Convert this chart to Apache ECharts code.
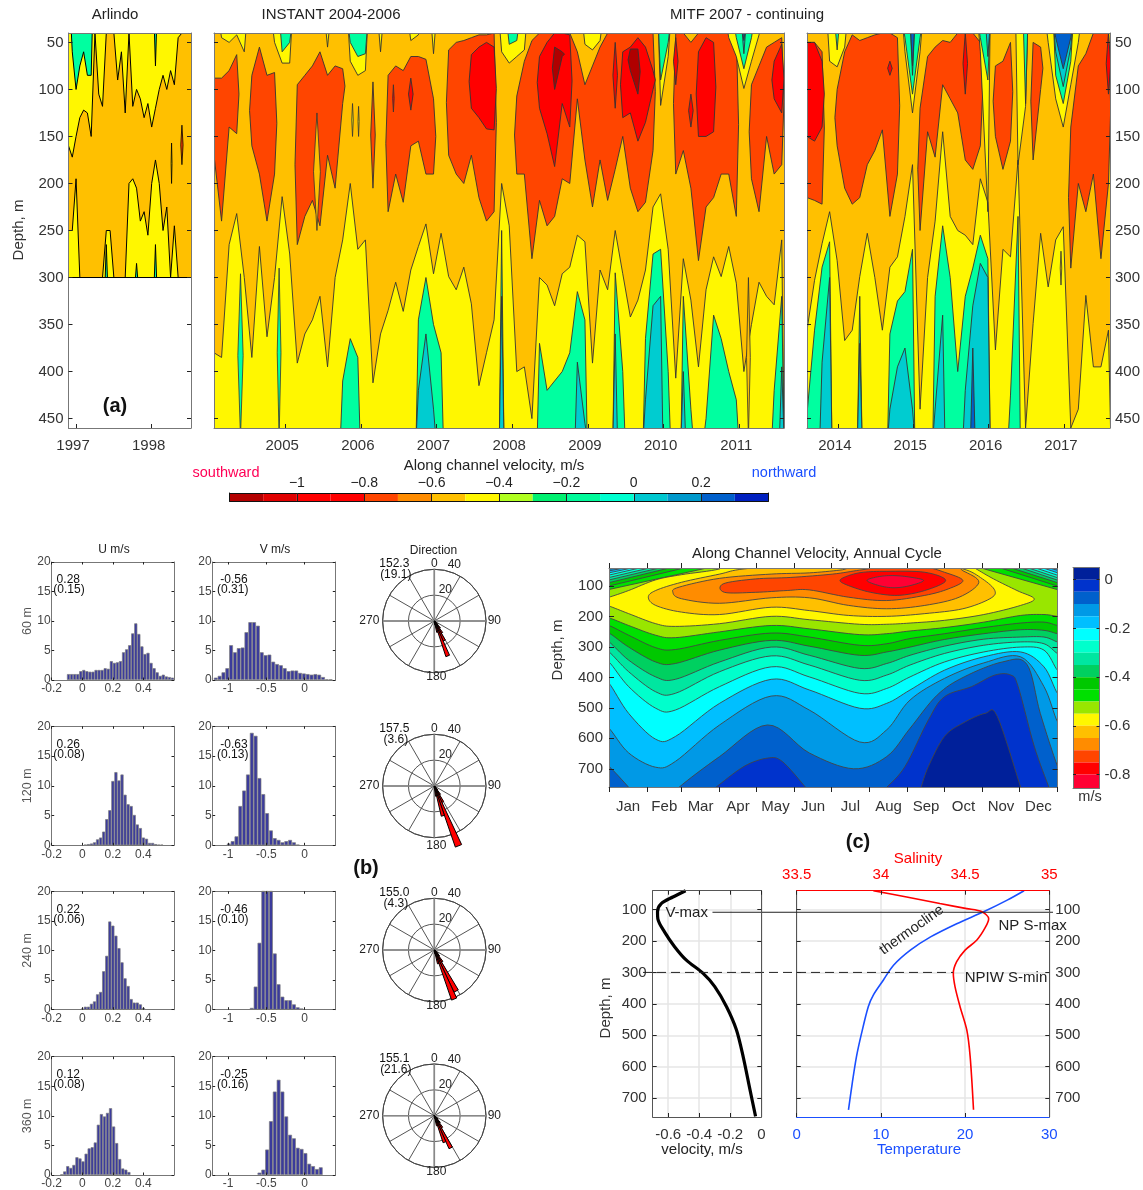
<!DOCTYPE html>
<html><head><meta charset="utf-8">
<style>html,body{margin:0;padding:0;background:#fff}#c{width:1143px;height:1190px}</style>
<script src="https://cdn.jsdelivr.net/npm/echarts@6/dist/echarts.min.js"></script>
</head><body><div id="c"></div>
<script>
const _=null;
const FONT='"Liberation Sans",Arial,sans-serif';
// ---------- colours of the velocity scale ----------
const cDark='#B00000',cRed='#FF0000',cOrRed='#FF4500',cOrange='#FFC000',cYellow='#FFF700',cGreen='#00FFA0',cTeal='#00CCD0',cBlue='#0060CC';
const topEdges=[-1.2,-1.1,-1,-0.9,-0.8,-0.7,-0.6,-0.5,-0.4,-0.3,-0.2,-0.1,0,0.1,0.2,0.3,0.4];
const topColors=['#B30000','#E00000','#FF0000','#FF0000','#FF4500','#FF8C00','#FFC000','#FFF700','#B0FF20','#00F070','#00FA9A','#00FFD0','#00C8D0','#0099CC','#0060CC','#0020C0'];
const topTicks=[-1,-0.8,-0.6,-0.4,-0.2,0,0.2];
// ---------- Arlindo panel, depth of contour at 0.05 yr steps from 1996.90 ----------
const arlTopY=[160,172,150,130,122,125,150,40,105,118,40,40,40,90,60,125,40,118,100,110,130,115,140,120,100,85,100,80,95,45,40,40,40];
const arlBotY=[250,250,195,300,300,300,300,300,300,300,250,250,300,300,300,300,200,195,205,240,230,255,200,175,200,250,225,300,245,300,300,300,300];
const arlTopG=[[1,[60,100,75,60,85,85]],[23,[75]]];
const arlBotG=[[10,[265]],[18,[285]],[23,[265]]];
// ---------- INSTANT / MITF part 1, 0.1 yr steps from 2004.06 ----------
const instRedT=[88,88,80,63,_,85,55,85,82,_,_,95,85,75,60,85,75,78,_,_,_,92,_,85,75,80,65,65,68,110,_,58,50,48,45,42,42,40,_,_,107,70,48,40,40,40,40,40,60,95,75,55,40,40,40,40,40,40,40,_,_,40,40,50,40,40,40,40,40,40,_,95,75,55,50,45];
const instRedB=[170,240,140,147,_,160,190,240,190,_,_,265,235,218,245,170,205,115,_,_,_,205,_,230,190,220,160,155,190,190,_,170,190,200,170,215,240,230,_,_,190,190,280,218,245,235,195,200,110,175,225,175,218,185,150,205,230,220,165,_,_,190,165,205,282,225,215,190,190,235,_,195,230,150,190,180];
const instBotY=[380,385,265,232,300,385,267,363,300,214,275,391,360,345,320,395,300,260,200,270,260,412,360,335,305,336,292,267,243,296,253,299,313,289,328,415,380,345,200,245,400,395,450,300,308,330,296,289,255,262,391,292,313,250,296,342,324,292,225,211,270,407,280,324,395,313,278,299,267,306,400,350,305,320,329,260];
const instBright=[[26,[88],[122]],[34,[63,55,50,55],[120,130,142,143]],[43,[65,50,40,40,42],[120,147,182,115,140]],[53,[50],[120]],[54,[60,55,45,55,80],[130,125,155,135,100]],[61,[45],[95]],[63,[105],[140]],[64,[60,45,50],[150,150,145]],[74,[70,52],[110,125]]];
const instDark=[[45,[55,60],[100,65]],[55,[57,57],[80,105]]];
const instTopY=[[1,[45,50,42,60]],[8,[50,72,72]],[15,[55]],[18,[70,85,80]],[22,[60]],[26,[48,42]],[29,[62]],[38,[60,72,65,58]],[49,[52,58,48]],[59,[117,65]],[68,[45,65,99,70,42]]];
const instTopG=[[9,[60,50]],[18,[50,65,62]],[39,[52,48]],[59,[90,50]],[69,[45,78,45]]];
const instTopT=[[70,[62]]];
const instTopB=[[70,[48]]];
const instBotG=[[17,[410,365,385]],[27,[345,300,350,380]],[38,[250]],[43,[370,420,410,400,380,315,345]],[53,[295,400]],[57,[365,275,270,400]],[62,[320,440]],[65,[450,340,365,400,430]],[74,[420,320]]];
const instBotT=[[27,[420,360,440]],[38,[320]],[48,[390,455]],[53,[360]],[57,[430,330,320]],[62,[400]],[75,[395]]];
// narrow features: year, top, bottom, width, colour
const instSpikes=[[2004.41,296,470,0.07,cGreen],[2004.92,290,470,0.05,cGreen],[2005.42,125,250,0.09,cOrange],[2005.89,115,150,0.02,cYellow],[2005.97,118,150,0.015,cYellow],[2006.43,95,124,0.02,cRed],[2011.12,300,470,0.05,cOrange]];
// ---------- MITF part 2, 0.1 yr steps from 2013.59 ----------
const mitRedT=[50,50,60,_,100,60,42,48,45,42,40,40,45,_,_,120,65,55,48,50,40,40,40,50,_,75,70,50,_,_,50,55,_,_,_,140,75,62,40,40,40];
const mitRedB=[215,218,222,_,160,205,222,215,180,165,143,235,190,_,_,250,145,172,95,110,125,175,185,160,_,150,185,155,_,_,175,100,_,_,_,290,200,230,190,280,200];
const mitBotY=[356,303,264,230,282,367,356,299,253,300,356,289,278,235,180,440,300,240,145,235,250,255,265,195,220,377,270,278,175,460,349,253,310,260,246,460,440,319,395,395,356];
const mitBright=[[0,[50,50,70],[150,155,140]],[11,[70],[85]],[21,[40],[105]],[40,[40],[105]]];
const mitTopY=[[3,[70,76,55]],[13,[60,125,60]],[23,[60,230]],[28,[180,118]],[32,[50,110,140,95,50]]];
const mitTopG=[[4,[58]],[13,[45,105,45]],[23,[45,90]],[29,[115]],[33,[85,115,70]]];
const mitTopT=[[14,[85]],[24,[65]],[33,[60,97,55]]];
const mitTopB=[[14,[75]],[33,[45,78,45]]];
const mitBotG=[[0,[445,356,289,262]],[7,[320]],[11,[360,325,315,270]],[17,[320,245,300,400,320,290,255,280]],[27,[425,235]]];
const mitBotT=[[2,[390,300]],[7,[370]],[11,[440,395,375,440]],[17,[440,340]],[21,[420,330,285,300]]];
const mitBotB=[[22,[375]]];
const mitSpikes=[[2016.96,272,308,0.02,cOrange]];
// ---------- histograms: first bin centre, then bar heights ----------
const u60=[1.0,1.0,1.0,1.0,1.5,1.7,1.5,1.4,1.4,1.7,1.7,1.7,2.0,1.9,3.2,2.9,3.0,3.2,4.7,5.2,5.9,7.9,9.6,7.8,5.7,4.4,4.6,2.9,2.0,1.3,0.7,0.9,0.6,0.5,0.4];
const v60=[0.4,0.7,1.3,2.0,5.9,4.7,5.4,5.5,8.1,9.8,9.8,9.2,4.7,4.2,4.3,3.1,2.7,2.5,2.0,1.5,1.6,1.6,1.2,1.1,1.0,0.9,1.0,0.9,0.5,0.1,0.1];
const u120=[0.1,0.2,0.3,0.5,1.0,1.3,2.3,4.4,5.9,10.8,12.3,10.9,11.9,8.5,6.9,6.6,5.1,3.5,2.9,1.3,1.1,0.4,0.4,0.2,0.1,0.1];
const v120=[0.3,0.7,1.5,6.6,9.2,11.9,18.9,18.4,11.3,8.6,5.4,2.5,1.2,0.9,0.5,0.7,0.9,0.5,0.1];
const u240=[0.2,0.5,0.5,1,1.4,2.6,3,6.5,9.1,14.9,14.2,12.5,10.4,8,5.3,4,1.8,1.2,1.2,0.9,0.3];
const v240=[0.3,3.9,11.3,24,26,24,9.5,4.3,2.2,1.6,1.6,0.9,0.4,0.2];
const u360=[0.1,0.6,1.5,1.2,1.7,3,2.8,2.3,3.6,4.5,4.7,5.5,8.5,10.3,9.9,10.5,11.3,8.2,5.4,2.7,1.1,0.9,0.5];
const v360=[0.4,0.9,4.3,9.1,14.1,16.1,14.1,9.9,6.8,6.2,4.6,4.4,3.7,1.9,1.5,1.0,1.3];
const uStarts=[-0.09,0.02,0,-0.135], vStarts=[-1.16,-0.99,-0.69,-0.59];
const uTable=[u60,u120,u240,u360], vTable=[v60,v120,v240,v360];
const uMeans=['0.28','0.26','0.22','0.12'],uSds=['(0.15)','(0.08)','(0.06)','(0.08)'];
const vMeans=['-0.56','-0.63','-0.46','-0.25'],vSds=['(0.31)','(0.13)','(0.10)','(0.16)'];
const rowNames=['60 m','120 m','240 m','360 m'];
// ---------- rose diagrams: [direction, length] ----------
const rose60=[[129,2],[135,4],[141,7],[147,11],[153,17],[159,29],[165,9],[171,3]];
const rose120=[[134,2],[140,4],[146,8],[152,14],[158,50],[164,24],[170,8],[176,2]];
const rose240=[[128,2],[134,4],[140,6],[146,11],[152,36],[158,41],[164,11],[170,3]];
const rose360=[[129,2],[135,4],[141,7],[147,11],[153,28],[159,22],[165,8],[171,2]];
const roseTable=[rose60,rose120,rose240,rose360];
const roseDir=['152.3','157.5','155.0','155.1'],roseSd=['(19.1)','(3.6)','(4.3)','(21.6)'];
// ---------- annual cycle, panel c ----------
const cycDays=[0,16,38,54,90,132,163,204,226,245,273,305,335,354,365];
const cycY0=[165,190,223,232,223,199,210,225,225,221,212,193,163];
const cycY1=[204,229,261,269,250,229,240,259,256,247,236,218,196,193,199];
const cycY2=[229,261,302,308,278,254,267,294,289,272,256,236,221,218,229];
const cycY3=[254,300,349,354,310,278,297,327,316,300,275,256,243,245,256];
const cycY4=[283,343,398,406,349,300,327,370,354,327,297,274,267,267,283];
const cycY5=[316,381,447,452,381,329,359,409,392,359,321,294,283,289,321];
const cycY6=[349,430,501,507,430,365,398,452,436,398,349,316,300,310,376];
const cycY7=[419,518,603,594,485,406,441,501,485,441,376,332,316,365,452];
const cycY8=[567,648,695,676,556,461,507,612,572,474,403,352,332,430,545];
const cycB=[[-6,680],[0,692],[16,761],[26,810],[47,810],[57,761],[90,660],[129,556],[163,648],[199,700],[226,660],[245,567],[267,458],[289,398],[320,349],[340,356],[351,518],[365,692],[372,745]];
const cycBump1=[[87,761],[110,692],[129,665],[141,676],[160,761]];
const cycBump2=[[226,761],[241,692],[260,539],[273,463],[295,430],[314,392],[327,392],[333,430],[346,625],[358,761]];
const cycNavy=[[254,761],[260,692],[273,594],[288,550],[306,518],[316,528],[335,761]];
const cycYellowTop=[[346,141],[332,114],[313,76],[298,41],[288,16],[101,16],[90,43],[59,62],[38,79],[16,114],[0,136],[-6,140]];
const cycBlobA=[[32,136],[38,114],[59,87],[90,60],[110,43],[163,27],[257,27],[288,43],[304,76],[314,114],[310,141],[288,174],[257,190],[226,199],[195,196],[163,180],[132,169],[90,193],[59,185],[38,163]];
const cycBlobB=[[52,120],[57,103],[90,74],[132,60],[163,56],[188,47],[204,38],[276,32],[288,49],[301,87],[285,136],[257,163],[226,174],[195,163],[163,138],[132,138],[90,156],[59,141]];
const cycBlobC=[[93,92],[119,76],[148,71],[182,60],[204,47],[226,36],[257,38],[273,54],[288,81],[276,109],[257,130],[226,147],[195,136],[163,112],[145,114],[119,120],[94,120]];
const cycBlobD=[[188,81],[195,65],[207,54],[226,51],[257,54],[274,81],[257,114],[235,130],[213,120],[195,98]];
const cycBlobE=[[210,81],[220,68],[232,65],[245,70],[256,81],[245,98],[232,105],[220,98]];
const fanColors=['#00E000','#00C800','#00D060','#00E6A0','#00FFCC','#00FFFF','#00BFFF','#0099E6','#0060CC'];
const fanLeft=[[112,82],[101,63],[90,51],[81,43],[73,35],[65,27],[57,21],[50,15],[45,8]];
const fanRight=[[114,301],[103,317],[92,326],[84,334],[76,340],[68,346],[60,352],[51,357],[44,362]];
const cycEdges=[0.05,0,-0.05,-0.1,-0.15,-0.2,-0.25,-0.3,-0.35,-0.4,-0.45,-0.5,-0.55,-0.6,-0.65,-0.7,-0.75,-0.8,-0.855];
const cycColors=['#00209A','#0033CC','#0060CC','#0099E6','#00BFFF','#00FFFF','#00FFCC','#00E6A0','#00D060','#00C800','#00E000','#99E600','#FFF700','#FFC000','#FF8C00','#FF4500','#FF0000','#FF0033'];
const monthEnds=[0,31,59,90,120,151,181,212,243,273,304,334,365];
const monthMids=[15.5,45,74.5,105,135.5,166,196.5,227.5,258,288.5,319,349.5];
const monthNames=['Jan','Feb','Mar','Apr','May','Jun','Jul','Aug','Sep','Oct','Nov','Dec'];
// ---------- mean profiles ----------
const profVel=[[-0.488,40],[-0.57,60],[-0.645,81],[-0.669,107],[-0.667,129],[-0.624,171],[-0.559,218],[-0.483,261],[-0.375,303],[-0.30,345],[-0.224,409],[-0.16,483],[-0.117,568],[-0.073,673],[-0.037,758]];
const profTemp=[[27,40],[25,70],[22.2,107],[19,145],[15.9,187],[13.5,229],[11.5,277],[10.3,324],[9.1,372],[8.5,409],[7.7,494],[7.1,568],[6.6,652],[6.15,737]];
const profSal=[[33.955,40],[34.153,60],[34.35,81],[34.51,97],[34.6,107],[34.64,129],[34.62,157],[34.57,197],[34.5,229],[34.45,266],[34.43,303],[34.44,345],[34.47,409],[34.51,483],[34.53,568],[34.55,737]];
const vmaxLine=[[-10,108.6],[30.44,108.6]];
const smaxDash=[[-18.25,300],[18.56,300]];

// ====================== builders =======================
const grids=[],xAxes=[],yAxes=[],polars=[],angles=[],radii=[],series=[],gfx=[];
const TAPER=0.3;
function axisBase(o){return {type:'value',min:o.min,max:o.max,z:o.split?1:10,inverse:!!o.inverse,position:o.pos,gridIndex:o.g,show:o.show!==false,
  axisLine:{show:true,onZero:false,lineStyle:{color:o.line||'#777',width:o.lw||1}},
  axisTick:{show:!!o.ticks,inside:!o.out,length:o.tl||4,customValues:o.ticks||[],lineStyle:{color:'#222',width:1}},
  axisLabel:{show:!!o.labels,inside:false,customValues:o.labels||[],formatter:o.fmt,fontFamily:FONT,fontSize:o.fs||15,color:o.lc||'#333',margin:o.m==null?6:o.m,hideOverlap:false,showMinLabel:true,showMaxLabel:true},
  splitLine:{show:!!o.split,lineStyle:{color:'#e6e6e6',width:1.5}}};}
function addPanel(o){
  const g=grids.length;
  grids.push({left:o.l,top:o.t,width:o.r-o.l,height:o.b-o.t,show:true,backgroundColor:o.bg||'transparent',borderWidth:0,containLabel:false});
  const xi=xAxes.length,yi=yAxes.length,show=o.hidden?false:true;
  xAxes.push(axisBase({g,pos:'bottom',min:o.x0,max:o.x1,ticks:o.xt,labels:o.xl,fmt:o.xf,fs:o.fs,lc:o.xlc,line:o.xline||o.line,m:o.xm,out:o.xout,tl:o.tl,split:o.split,show}));
  xAxes.push(axisBase({g,pos:'top',min:o.x0,max:o.x1,ticks:o.xtt===undefined?o.xt:o.xtt,labels:o.xlt,fmt:o.xf,fs:o.fs,lc:o.xltc,line:o.xtline||o.line,m:o.xm,out:o.xout,tl:o.tl,show}));
  yAxes.push(axisBase({g,pos:'left',inverse:o.inv,min:o.y0,max:o.y1,ticks:o.yt,labels:o.yll,fmt:o.yf,fs:o.fs,lc:o.ylc,line:o.line,m:o.ym,tl:o.tl,split:o.split,show}));
  yAxes.push(axisBase({g,pos:'right',inverse:o.inv,min:o.y0,max:o.y1,ticks:o.yt,labels:o.ylr,fmt:o.yf,fs:o.fs,lc:o.ylc,line:o.line,m:o.ym,tl:o.tl,show}));
  return {g,x:xi,y:yi};
}
function cr(p,closed){ // Catmull-Rom densification in screen space
  const n=p.length,out=[],N=8;
  const at=i=>closed?p[(i+n)%n]:p[Math.max(0,Math.min(n-1,i))];
  const last=closed?n:n-1;
  for(let i=0;i<last;i++){const a=at(i-1),b=at(i),c=at(i+1),d=at(i+2);
    for(let k=0;k<N;k++){const t=k/N,t2=t*t,t3=t2*t;
      out.push([0,1].map(j=>0.5*(2*b[j]+(c[j]-a[j])*t+(2*a[j]-5*b[j]+4*c[j]-d[j])*t2+(3*b[j]-a[j]-3*c[j]+d[j])*t3)));}}
  if(!closed)out.push(p[n-1]);
  return out;
}
function drawPolys(pan,list,z){
  series.push({type:'custom',coordinateSystem:'cartesian2d',xAxisIndex:pan.x,yAxisIndex:pan.y,clip:true,silent:true,animation:false,z:z||2,
    data:list.map((q,i)=>[i]),encode:{x:[],y:[]},
    renderItem:(ctx,api)=>{const q=list[ctx.dataIndex];let c=q.pts.map(d=>api.coord(d));
      if(q.curve)c=cr(c,q.curve==='closed');
      if(q.tail)c=c.concat(q.tail.map(d=>api.coord(d)));
      return {type:'polygon',shape:{points:c},style:{fill:q.fill,stroke:q.stroke||null,lineWidth:q.lw||0}};}});
}
// bands from run lists
function denseRuns(top,bot){const r=[];let s=-1;for(let i=0;i<=top.length;i++){const ok=i<top.length&&top[i]!=null&&bot[i]!=null&&top[i]<bot[i];
  if(ok&&s<0)s=i;if(!ok&&s>=0){r.push([s,top.slice(s,i),bot.slice(s,i)]);s=-1;}}return r;}
function bandPolys(runs,t0,step,fill,stroke,lw,topA,botA){
  return runs.map(([s,T,B])=>{const h=step*TAPER,x=i=>t0+step*(s+i),n=T.length,pts=[];
    const m=(a,b)=>(a===topA?topA:(b===botA?botA:(a+b)/2));
    pts.push([x(0)-h,m(T[0],B[0])]);
    T.forEach((v,i)=>pts.push([x(i),v]));
    pts.push([x(n-1)+h,m(T[n-1],B[n-1])]);
    for(let i=n-1;i>=0;i--)pts.push([x(i),B[i]]);
    return {pts,fill,stroke,lw};});
}
const fromTop=(runs,a)=>runs.map(([s,v])=>[s,v.map(()=>a),v]);
const fromBot=(runs,a)=>runs.map(([s,v])=>[s,v,v.map(()=>a)]);
function denseBot(arr,a){const t=arr.map(v=>v>=a?null:v);return denseRuns(t,arr.map(()=>a));}
function denseTop(arr,a){const b=arr.map(v=>v<=a?null:v);return denseRuns(arr.map(()=>a),b);}
function spikes(list,stroke){return list.map(([t,a,b,w,c])=>({pts:[[t-w/2,(a+b)/2],[t,a],[t+w/2,(a+b)/2],[t,b]],fill:c,stroke,lw:0.8}));}
function txt(text,x,y,size,color,opt){opt=opt||{};gfx.push({type:'text',x,y,rotation:opt.rot||0,z:100,silent:true,
  style:{text,fontFamily:FONT,fontSize:size,fontWeight:opt.bold?'bold':'normal',fill:color||'#222',align:opt.align||'center',verticalAlign:'middle'}});}

// ====================== top row =======================
const depthTicks=[50,100,150,200,250,300,350,400,450];
const yrFmt=v=>String(Math.round(v));
const STK='#333',SW=0.9;
const pA=addPanel({l:68.5,r:191,t:33,b:428,x0:1996.9,x1:1998.52,y0:40,y1:460,inv:true,bg:cOrange,xt:[1997,1998],xtt:[],xl:[1996.96,1997.96],xf:yrFmt,yt:depthTicks,yll:depthTicks,ym:5,xm:10});
const pB=addPanel({l:214,r:784,t:33,b:428,x0:2004.06,x1:2011.59,y0:40,y1:460,inv:true,bg:cOrange,xt:[2005,2006,2007,2008,2009,2010,2011],xtt:[],xl:[2004.96,2005.96,2006.96,2007.96,2008.96,2009.96,2010.96],xf:yrFmt,yt:depthTicks,xm:10});
const pC=addPanel({l:807,r:1111.5,t:33,b:428,x0:2013.59,x1:2017.61,y0:40,y1:460,inv:true,bg:cOrange,xt:[2014,2015,2016,2017],xtt:[],xl:[2013.96,2014.96,2015.96,2016.96],xf:yrFmt,yt:depthTicks,ylr:depthTicks,ym:5,xm:10});
(function(){
  const A=(r,c,top,bot,s)=>bandPolys(r,1996.9,0.05,c,'#000',1,top,bot);
  const l=[].concat(
    A(denseBot(arlBotY,301),cYellow,_,301),
    A(fromBot(arlBotG,301),cGreen,_,301),
    A(denseTop(arlTopY,35),cYellow,35,_),
    A(fromTop(arlTopG,35),cGreen,35,_),
    spikes([[1998.263,157,200,0.012,cYellow],[1998.40,138,180,0.03,cOrRed]],'#000'),
    [{pts:[[1996,300],[1999,300],[1999,470],[1996,470]],fill:'#fff',stroke:'#000',lw:1}]);
  drawPolys(pA,l);
  function layered(t0,botY,redT,redB,botG,botT,botB,topY,topG,topT,topB,bright,dark,sp){
    const F=(r,c,a,b)=>bandPolys(r,t0,0.1,c,STK,SW,a,b);
    return [].concat(
      F(denseBot(botY,470),cYellow,_,470),
      F(fromBot(botG,470),cGreen,_,470),
      F(fromBot(botT,470),cTeal,_,470),
      F(fromBot(botB,470),cBlue,_,470),
      F(denseRuns(redT,redB),cOrRed),
      spikes(sp,STK),
      F(fromTop(topY,30),cYellow,30,_),
      F(fromTop(topG,30),cGreen,30,_),
      F(fromTop(topT,30),cTeal,30,_),
      F(fromTop(topB,30),cBlue,30,_),
      F(bright,cRed),
      F(dark,cDark));
  }
  drawPolys(pB,layered(2004.06,instBotY,instRedT,instRedB,instBotG,instBotT,[],instTopY,instTopG,instTopT,instTopB,instBright,instDark,instSpikes));
  drawPolys(pC,layered(2013.59,mitBotY,mitRedT,mitRedB,mitBotG,mitBotT,mitBotB,mitTopY,mitTopG,mitTopT,mitTopB,mitBright,[],mitSpikes));
})();
// top colour bar
const pBar=addPanel({l:229.5,r:768.5,t:493,b:501,x0:-1.2,x1:0.4,y0:0,y1:1,line:'#111',xtt:topTicks,xt:[],xlt:topTicks,xltc:'#222',xf:v=>String(v).replace('-','\u2212'),tl:8,xm:3,fs:14});
drawPolys(pBar,topColors.map((c,i)=>({pts:[[topEdges[i],0],[topEdges[i+1],0],[topEdges[i+1],1],[topEdges[i],1]],fill:c})));

// ====================== histograms =======================
const rowTop=[562,726.3,891.3,1056.7],rowBot=[680,845.3,1009.7,1175];
const rosePos=[[434.3,621],[434.3,786],[434.3,950],[434.3,1115.7]];
const yHist=[0,5,10,15,20];
function hist(pan,vals,start,step,w){
  series.push({type:'bar',xAxisIndex:pan.x,yAxisIndex:pan.y,barWidth:w,clip:true,silent:true,animation:false,z:3,
    itemStyle:{color:'#3B3B9C',borderColor:'#7d7d7d',borderWidth:0.7},
    data:vals.map((h,i)=>[start+step*i,h])});
}
rowTop.forEach((t,i)=>{
  const b=rowBot[i];
  const pu=addPanel({l:51.7,r:174,t,b,x0:-0.2,x1:0.6,y0:0,y1:20,xt:[-0.2,0,0.2,0.4],xl:[-0.2,0,0.2,0.4],xf:v=>String(v),yt:yHist,yll:yHist,fs:12,tl:2.5,ym:1,xm:3,xlc:'#444',ylc:'#444'});
  const pv=addPanel({l:212.7,r:335.3,t,b,x0:-1.2,x1:0.4,y0:0,y1:20,xt:[-1,-0.5,0],xl:[-1,-0.5,0],xf:v=>String(v),yt:yHist,yll:yHist,fs:12,tl:2.5,ym:1,xm:3,xlc:'#444',ylc:'#444'});
  hist(pu,uTable[i],uStarts[i],0.02,3.1);
  hist(pv,vTable[i],vStarts[i],0.05,3.8);
  txt(uMeans[i],68.3,t+18,12,'#111');txt(uSds[i],69,t+28,12,'#111');
  txt(vMeans[i],234,t+18,12,'#111');txt(vSds[i],232.7,t+28,12,'#111');
  txt(rowNames[i],28,(t+b)/2,12.5,'#555',{rot:Math.PI/2});
  // rose
  const pi=polars.length,[cx,cy]=rosePos[i];
  polars.push({center:[cx,cy],radius:51.7});
  angles.push({polarIndex:pi,type:'value',min:0,max:360,startAngle:90,clockwise:true,interval:30,z:1,
    axisLabel:{show:false},axisTick:{show:false},axisLine:{show:true,lineStyle:{color:'#444'}},splitLine:{show:true,lineStyle:{color:'#555',width:1}}});
  radii.push({polarIndex:pi,type:'value',min:0,max:40,interval:20,z:1,axisLabel:{show:false},axisTick:{show:false},axisLine:{show:false},splitLine:{show:true,lineStyle:{color:'#555',width:1}}});
  const main=[0,90,180,270];
  series.push({type:'custom',coordinateSystem:'polar',polarIndex:pi,silent:true,animation:false,z:2,data:main.map((a,k)=>[k]),encode:{radius:[],angle:[]},
    renderItem:(ctx,api)=>{const a=main[ctx.dataIndex],p=api.coord([0,a]),q=api.coord([40,a]);
      return {type:'line',shape:{x1:p[0],y1:p[1],x2:q[0],y2:q[1]},style:{stroke:'#888',lineWidth:1.6}};}});
  const rose=roseTable[i];
  series.push({type:'custom',coordinateSystem:'polar',polarIndex:pi,silent:true,animation:false,z:3,data:rose.map((a,k)=>[k]),encode:{radius:[],angle:[]},
    renderItem:(ctx,api)=>{const [a,r]=rose[ctx.dataIndex];
      return {type:'polygon',shape:{points:[api.coord([0,a]),api.coord([r,a-3]),api.coord([r,a+3])]},style:{fill:'#FF0000',stroke:'#000',lineWidth:1}};}});
  txt('0',cx,cy-57,12,'#222');txt('40',cx+20,cy-56.5,12,'#222');txt('20',cx+11,cy-31.5,12,'#222');
  txt('270',cx-65,cy,12,'#222');txt('90',cx+60,cy,12,'#222');txt('180',cx+2,cy+(i==1?60:56),12,'#222');
  txt(roseDir[i],cx-40,cy-57,12,'#111');txt(roseSd[i],cx-38.5,cy-46,12,'#111');
});

// ====================== annual cycle =======================
const cycTicksY=[100,200,300,400,500,600,700];
const pCy=addPanel({l:609,r:1057.5,t:568,b:787,x0:0,x1:365,y0:40,y1:760,inv:true,bg:'#0060CC',xt:monthEnds,xl:monthMids,xf:v=>{const k=monthMids.indexOf(v);return k<0?'':monthNames[k];},xout:true,tl:5,yt:cycTicksY,yll:cycTicksY,ym:6,xm:12,xlc:'#333'});
(function(){
  const S='#444',W=0.9;
  const pairs=arr=>{const p=arr.map((d,i)=>[cycDays[i],d]);return [[-6,arr[0]]].concat(p,[[371,arr[arr.length-1]]]);};
  const above=(arr,fill)=>({pts:pairs(arr),curve:'open',tail:[[380,0],[-15,0]],fill,stroke:S,lw:W});
  const bump=(pts,fill)=>({pts,curve:'open',tail:[[pts[pts.length-1][0],800],[pts[0][0],800]],fill,stroke:S,lw:W});
  const blob=(pts,fill)=>({pts,curve:'closed',fill,stroke:S,lw:W});
  const lower=cycY0.map((d,i)=>[cycDays[i],d]);
  const l=[bump(cycBump1,'#0033CC'),bump(cycBump2,'#0033CC'),bump(cycNavy,'#00209A'),
    {pts:cycB,curve:'open',tail:[[380,0],[-15,0]],fill:'#0099E6',stroke:S,lw:W},
    above(cycY8,'#00BFFF'),above(cycY7,'#00FFFF'),above(cycY6,'#00FFCC'),above(cycY5,'#00E6A0'),above(cycY4,'#00D060'),above(cycY3,'#00C800'),above(cycY2,'#00E000'),above(cycY1,'#99E600')];
  fanLeft.forEach(([d,h],i)=>l.push({pts:[[-6,d+4],[h,38],[-6,38]],fill:fanColors[i],stroke:S,lw:W}));
  fanRight.forEach(([d,h],i)=>l.push({pts:[[371,d+4],[h,38],[371,38]],fill:fanColors[i],stroke:S,lw:W}));
  l.push({pts:[[-6,160]].concat(lower,cycYellowTop),curve:'closed',fill:'#FFF700',stroke:S,lw:W});
  l.push(blob(cycBlobA,'#FFC000'),blob(cycBlobB,'#FF8C00'),blob(cycBlobC,'#FF4500'),blob(cycBlobD,'#FF0000'),blob(cycBlobE,'#FF0033'));
  drawPolys(pCy,l);
})();
const barLabels=[0,-0.2,-0.4,-0.6,-0.8];
const pCb=addPanel({l:1073,r:1099.5,t:567.5,b:788,x0:0,x1:1,y0:-0.855,y1:0.05,yt:barLabels,ylr:barLabels,yf:v=>String(v),ym:5,tl:3,xt:[],xtt:[]});
drawPolys(pCb,cycColors.map((c,i)=>({pts:[[0,cycEdges[i]],[1,cycEdges[i]],[1,cycEdges[i+1]],[0,cycEdges[i+1]]],fill:c})));

// ====================== profiles =======================
const pL=addPanel({l:652.7,r:761.3,t:890.7,b:1117,x0:-0.7,x1:0,y0:40,y1:760,inv:true,split:true,xt:[-0.6,-0.4,-0.2,0],xl:[-0.6,-0.4,-0.2,0],xf:v=>String(v),yt:cycTicksY,yll:cycTicksY,ym:6,xm:10,line:'#555'});
const pR=addPanel({l:796.7,r:1049.3,t:890.7,b:1117,x0:0,x1:30,y0:40,y1:760,inv:true,split:true,xt:[0,10,20,30],xl:[0,10,20,30],xf:v=>String(v),xlc:'#1A4FFF',xline:'#1A4FFF',xtline:'#FF0000',xtt:[],yt:cycTicksY,ylr:cycTicksY,ym:6,xm:10,line:'#555'});
xAxes[pR.x+1].min=33.5;xAxes[pR.x+1].max=35;
Object.assign(xAxes[pR.x+1].axisLabel,{show:true,customValues:[33.5,34,34.5,35],color:'#FF0000',fontFamily:FONT,fontSize:15,margin:8,formatter:v=>String(v)});
Object.assign(xAxes[pR.x+1].axisTick,{show:true,customValues:[33.5,34,34.5,35]});
const lineS=(pan,xi,d,color,w,extra)=>series.push(Object.assign({type:'line',xAxisIndex:xi,yAxisIndex:pan.y,data:d,showSymbol:false,symbol:'none',smooth:0.3,silent:true,animation:false,z:4,lineStyle:{color,width:w}},extra||{}));
lineS(pL,pL.x,profVel,'#000',3.2);
lineS(pR,pR.x,profTemp,'#1A4FFF',1.6);
lineS(pR,pR.x+1,profSal,'#FF0000',1.6);
const pO=addPanel({l:643,r:1053,t:890.7,b:1117,x0:-18.25,x1:30.44,y0:40,y1:760,inv:true,hidden:true});
lineS(pO,pO.x,vmaxLine,'#222',1,{smooth:false,clip:false,z:6});
lineS(pO,pO.x,smaxDash,'#222',1,{smooth:false,clip:false,z:6,lineStyle:{color:'#222',width:1,type:[9,5]}});

// ====================== free text =======================
txt('Arlindo',115,15,15);txt('INSTANT 2004-2006',331,15,15);txt('MITF 2007 - continuing',747,15,15);
txt('Depth, m',19,230,15,'#333',{rot:Math.PI/2});
txt('(a)',115,406,20,'#111',{bold:true});txt('(b)',366,868,20,'#111',{bold:true});txt('(c)',858,842,20,'#111',{bold:true});
txt('Along channel velocity, m/s',494,466,15);
txt('southward',226,473,14.5,'#FF0055');txt('northward',784,473,14.5,'#1A4FFF');
txt('U m/s',114,550,12);txt('V m/s',275,550,12);txt('Direction',433.5,551,12);
txt('Along Channel Velocity, Annual Cycle',817,554,15);
txt('Depth, m',558,650,15,'#333',{rot:Math.PI/2});
txt('m/s',1090,797,14.5,'#333');
txt('Salinity',918,859,15,'#FF0000');
txt('Temperature',919,1150,15,'#1A4FFF');
txt('velocity, m/s',702,1150,15,'#222');
txt('Depth, m',606,1008,15,'#333',{rot:Math.PI/2});
txt('V-max',686.7,913,15,'#222');
txt('thermocline',911.7,930,14.5,'#222',{rot:0.62});
txt('NP S-max',1032.7,926,15,'#222');
txt('NPIW S-min',1006,978,15,'#222');

const chart=echarts.init(document.getElementById('c'),null,{renderer:'canvas',width:1143,height:1190});
chart.setOption({animation:false,backgroundColor:'#fff',textStyle:{fontFamily:FONT},grid:grids,xAxis:xAxes,yAxis:yAxes,polar:polars,angleAxis:angles,radiusAxis:radii,series,graphic:{elements:gfx}});
</script></body></html>
